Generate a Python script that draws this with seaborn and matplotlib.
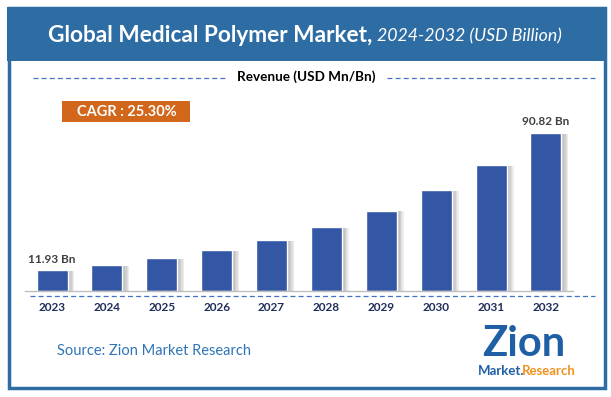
import numpy as np
import pandas as pd
import seaborn as sns
import matplotlib.pyplot as plt
import matplotlib.patheffects as pe
from matplotlib.patches import Rectangle
from matplotlib.lines import Line2D

years = ["2023", "2024", "2025", "2026", "2027", "2028", "2029", "2030", "2031", "2032"]
revenue = [11.93, 14.95, 18.73, 23.47, 29.41, 36.85, 46.17, 57.86, 72.49, 90.82]
value_labels = ["11.93 Bn", "", "", "", "", "", "", "", "", "90.82 Bn"]

df = pd.DataFrame({"year": years, "revenue": revenue})

sns.set_theme(style="white")
plt.rcParams["font.family"] = ["Lato", "DejaVu Sans"]

W, H = 611, 397
fig = plt.figure(figsize=(W / 100, H / 100), dpi=100)
fig.patch.set_facecolor("white")

def fx(px):
    return px / W

def fy(py):
    return 1 - py / H

blue = "#2E6DA4"

# outer frame and title band
fig.patches.append(Rectangle((fx(8.5), fy(388)), (605 - 8.5) / W, (388 - 8) / H,
                             transform=fig.transFigure, fill=False,
                             edgecolor=blue, lw=2.5))
fig.patches.append(Rectangle((fx(7), fy(61)), (606 - 7) / W, (61 - 7) / H,
                             transform=fig.transFigure, facecolor=blue,
                             edgecolor="none"))
fig.text(fx(372), fy(35), "Global Medical Polymer Market,", color="white",
         fontsize=16.3, fontweight="bold", ha="right", va="center")
fig.text(fx(377), fy(36), "2024-2032 (USD Billion)", color="white",
         fontsize=12.8, fontstyle="italic", ha="left", va="center")

# revenue subtitle with dashed lines
fig.text(fx(306), fy(77), "Revenue (USD Mn/Bn)", color="black",
         fontsize=9.7, fontweight="bold", ha="center", va="center")
for x0, x1 in [(33, 227), (387, 595)]:
    fig.lines.append(Line2D([fx(x0), fx(x1)], [fy(78), fy(78)],
                            transform=fig.transFigure, color="#4472C4",
                            lw=0.9, ls=(0, (4, 2.5))))

# CAGR box
fig.patches.append(Rectangle((fx(62), fy(122)), 128 / W, 21 / H,
                             transform=fig.transFigure, facecolor="#D2661A",
                             edgecolor="none"))
fig.text(fx(127), fy(111.5), "CAGR : 25.30%", color="white", fontsize=10.5,
         fontweight="bold", ha="center", va="center")

# bar chart
ax_left, ax_right = 24.6, 573.4
ax_top, ax_bottom = 110, 291
ax = fig.add_axes([fx(ax_left), fy(ax_bottom), (ax_right - ax_left) / W,
                   (ax_bottom - ax_top) / H])
sns.barplot(data=df, x="year", y="revenue", color="#3457A5", width=0.565,
            saturation=1, ax=ax)
# soft shadow on the right side of each bar
shadow = [pe.SimplePatchShadow(offset=(k, -0.5), shadow_rgbFace="#707070",
                               alpha=0.12) for k in (5, 4, 3, 2)]
for bar in ax.patches:
    bar.set_path_effects(shadow + [pe.Normal()])
ax.bar_label(ax.containers[0], labels=value_labels, padding=4,
             fontsize=8.5, fontweight="bold", color="#404040")
ax.set_ylim(0, (ax_bottom - ax_top) / 1.74)
ax.set_xlim(-0.5, 9.5)
ax.set_xlabel("")
ax.set_ylabel("")
ax.set_yticks([])
for s in ["top", "left", "right"]:
    ax.spines[s].set_visible(False)
ax.spines["bottom"].set_color("#BFBFBF")
ax.spines["bottom"].set_linewidth(1)
ax.tick_params(axis="x", length=0, pad=8, labelsize=8.5, labelcolor="#1F2D5A")
for lbl in ax.get_xticklabels():
    lbl.set_fontweight("bold")
ax.patch.set_alpha(0)

fig.lines.append(Line2D([fx(30), fx(595)], [fy(296), fy(296)],
                        transform=fig.transFigure, color="#4472C4",
                        lw=0.9, ls=(0, (4, 2.5))))

# source
fig.text(fx(57), fy(351), "Source: Zion Market Research", color="#2E75B6",
         fontsize=10.5, ha="left", va="center")

# logo
fig.text(fx(524), fy(356), "Zion", color="#1F5FA6", fontsize=30,
         fontweight="bold", ha="center", va="baseline")
fig.text(fx(501), fy(371), "Market.", color="#1F5FA6", fontsize=9.5,
         fontweight="bold", ha="center", va="center")
fig.text(fx(549), fy(371), "Research", color="#F0921E", fontsize=9.5,
         fontweight="bold", ha="center", va="center")

fig.savefig("out.png", dpi=100)
